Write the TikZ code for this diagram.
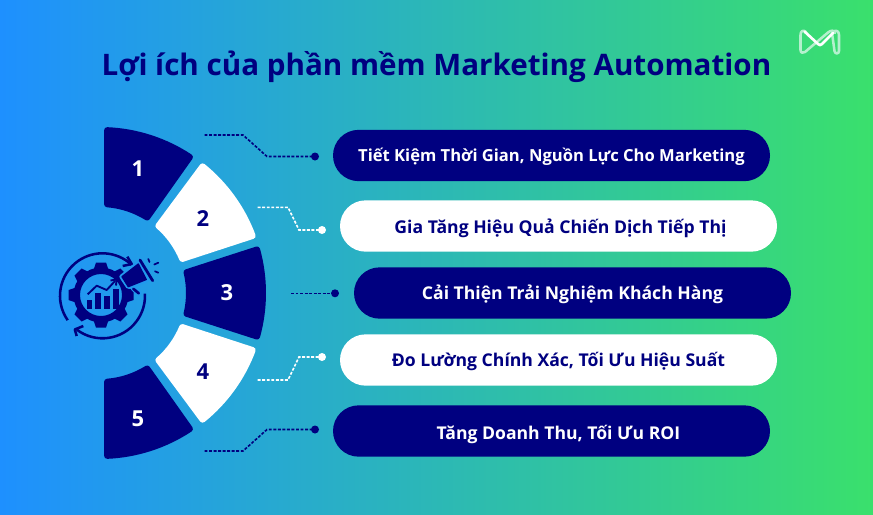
\documentclass[tikz,border=0pt]{standalone}
\usepackage{fontspec}
\setmainfont{Open Sans}[Scale=1]
\usetikzlibrary{shapes.misc,arrows.meta}
\definecolor{navy}{RGB}{0,0,128}
\definecolor{bgl}{RGB}{30,144,255}
\definecolor{bgr}{RGB}{58,224,108}
\definecolor{bgicon}{RGB}{33,153,238}
\definecolor{paleg}{RGB}{180,240,205}
\tikzset{
 seg/.style={line width=4.5pt,line join=round},
 navyseg/.style={seg,fill=navy,draw=navy},
 whiteseg/.style={seg,fill=white,draw=white},
 pill/.style={rounded rectangle,minimum width=327.75pt,minimum height=38.5pt,inner sep=0pt,text height=10pt,text depth=0pt,font=\fontsize{13.2pt}{15pt}\selectfont\bfseries},
 navypill/.style={pill,fill=navy,text=white},
 whitepill/.style={pill,fill=white,text=navy},
 num/.style={inner sep=0pt,font=\fontsize{16.5pt}{19pt}\selectfont\bfseries},
 conn/.style={line width=1.2pt,dash pattern=on 2.2pt off 1.2pt},
 dot/.style={circle,minimum size=6pt,inner sep=0pt},
 icon/.style={draw=navy,line width=1.9pt,line join=round},
 logo/.style={line cap=round,line join=round}
}
\newcommand{\ringseg}[5]{%
 \path[#1] (#2:163) arc[start angle=#2,end angle=#3,radius=163] -- (#4:89) arc[start angle=#4,end angle=#5,radius=89] -- cycle;}
\begin{document}
\begin{tikzpicture}[x=0.75pt,y=-0.75pt]
\useasboundingbox (0,0) rectangle (873,514);
\shade[left color=bgl,right color=bgr] (0,0) rectangle (873,514);
\node[text=navy,font=\fontsize{22.2pt}{26pt}\selectfont\bfseries,inner sep=0pt,text height=16pt,text depth=0pt] (title) at (436.5,65) {Lợi ích của phần mềm Marketing Automation};
% segments
\begin{scope}[shift={(100,293)}]
 \ringseg{navyseg}{-87.5}{-56.5}{-58}{-85.4}
 \ringseg{whiteseg}{-51}{-20.5}{-22.5}{-49}
 \ringseg{navyseg}{-15.5}{15.5}{13.5}{-13.5}
 \ringseg{whiteseg}{20.5}{51}{49}{22.5}
 \ringseg{navyseg}{56.5}{87.5}{85.4}{58}
\end{scope}
\node[num,text=white] (n1) at (138,169) {1};
\node[num,text=navy] (n2) at (203,219) {2};
\node[num,text=white] (n3) at (227,293) {3};
\node[num,text=navy] (n4) at (203,372) {4};
\node[num,text=white] (n5) at (138,419) {5};
% pills
\node[navypill,font=\fontsize{12.45pt}{15pt}\selectfont\bfseries,text height=9pt] (p1) at (551.5,155.5) {Tiết Kiệm Thời Gian, Nguồn Lực Cho Marketing};
\node[whitepill,text height=11pt] (p2) at (558.5,226) {\hspace*{3pt}Gia Tăng Hiệu Quả Chiến Dịch Tiếp Thị};
\node[navypill] (p3) at (572.5,293) {Cải Thiện Trải Nghiệm Khách Hàng};
\node[whitepill] (p4) at (558.5,360) {Đo Lường Chính Xác, Tối Ưu Hiệu Suất};
\node[navypill,text height=12pt] (p5) at (551.5,431) {\hspace*{10.5pt}Tăng Doanh Thu, Tối Ưu ROI};
% connectors
\node[dot,fill=navy] (d1) at (315,156.5) {};
\node[dot,fill=white] (d2) at (322,230) {};
\node[dot,fill=navy] (d3) at (335,293.3) {};
\node[dot,fill=white] (d4) at (322,357) {};
\node[dot,fill=navy] (d5) at (315,429.5) {};
\coordinate (c1) at (204.5,135);
\coordinate (c2) at (257.7,207.3);
\coordinate (c3) at (291,293.3);
\coordinate (c4) at (257.7,380);
\coordinate (c5) at (204.5,451);
\draw[conn,navy] (c1) -- (243,135) -- (267,156.5) -- (d1.center);
\draw[conn,white] (c2) -- (288,207.3) -- (299,230) -- (d2.center);
\draw[conn,navy] (c3) -- (d3.center);
\draw[conn,white] (c4) -- (288,380) -- (299,357) -- (d4.center);
\draw[conn,navy] (c5) -- (243,451) -- (267,429.5) -- (d5.center);
% icon: gear
\begin{scope}[shift={(101,295)}]
 \foreach \a in {0,45,...,315}{\fill[navy,rotate=\a] (-7.5,-25) -- (-5,-32.5) -- (5,-32.5) -- (7.5,-25) -- cycle;}
 \fill[navy,even odd rule] (0,0) circle[radius=27.5] (0,0) circle[radius=21];
\end{scope}
% icon: bars and trend
\fill[navy] (86.7,300) rectangle (91.7,309);
\fill[navy] (95,293.3) rectangle (100.7,309);
\fill[navy] (104.3,296) rectangle (110,309);
\fill[navy] (113.3,289) rectangle (119,309);
\draw[navy,line width=1.4pt,line join=round] (87.7,294.3) -- (96.7,285.7) -- (106.7,290) -- (115,281);
\draw[navy,line width=1.4pt,line join=round] (110.5,280.5) -- (116.5,279.5) -- (116,285.5);
% icon: ring arrows
\draw[icon] (145:42.5) ++(102.5,295.8) arc[start angle=145,end angle=313,radius=42.5];
\draw[icon] (127.3,256.7) -- (131.7,264) -- (122.7,266);
\draw[icon] (127:42.5) ++(102.5,295.8) arc[start angle=127,end angle=-3,radius=42.5];
\draw[icon] (83.3,326) -- (74.8,329.5) -- (76.7,336);
% icon: megaphone
\path[fill=bgicon,draw=bgicon,line width=3.5pt,line join=round] (138.3,263.3) -- (146.7,280) -- (128.3,286.7) -- (121.7,276.7) -- cycle;
\path[draw=bgicon,line width=4pt,line cap=round] (133.3,288.3) -- (139,293.3);
\path[fill=navy,draw=navy,line width=1pt,line join=round] (138.3,264) -- (146.2,279.5) -- (128.3,286.7) -- (122,276.7) -- cycle;
\draw[navy,line width=2.1pt,line cap=round] (140,260) -- (152.7,280.7);
\draw[navy,line width=2pt,line cap=round] (133.3,288.8) -- (138.8,293.3);
\draw[navy,line width=1.3pt,line cap=round] (148.3,259) -- (149.5,262);
\draw[navy,line width=1.3pt,line cap=round] (154.3,264.5) -- (158.3,262.7);
\draw[navy,line width=1.3pt,line cap=round] (155,271.3) -- (158.3,272.7);
% logo
\draw[logo,paleg,line width=1.9pt] (806,32) .. controls (803,29.5) and (800.5,31) .. (800.5,35) -- (800.5,50) .. controls (800.5,53) and (803,53.5) .. (805,52) -- (828,32.5) .. controls (831,30) and (834,30) .. (835,33);
\draw[logo,paleg,line width=1.9pt] (833,32) .. controls (836,29.5) and (839,31) .. (839,35) -- (839,51) .. controls (839,54) and (835,54.5) .. (834.5,51) -- (832,33);
\draw[logo,white,line width=2pt] (804.5,31.5) -- (818,44) .. controls (819.5,45.5) and (820.5,45.5) .. (822,44) -- (833,33);
\end{tikzpicture}
\end{document}
